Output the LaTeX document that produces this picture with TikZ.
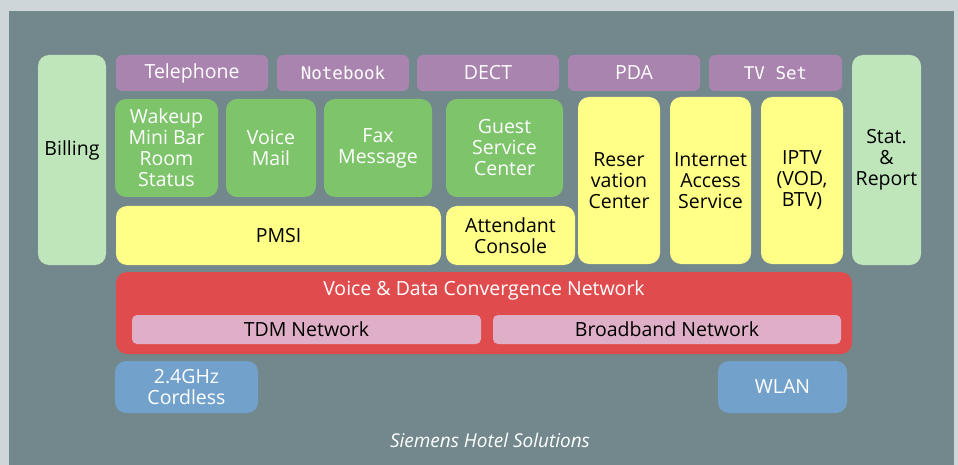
\documentclass[tikz,border=0pt]{standalone}
\usepackage{fontspec}
\setmainfont{Open Sans}
\newfontfamily\monof{DejaVu Sans Mono}
\definecolor{outerbg}{HTML}{CED6D9}
\definecolor{panel}{HTML}{72888D}
\definecolor{purp}{HTML}{A884AE}
\definecolor{grn}{HTML}{7DC46B}
\definecolor{lgrn}{HTML}{BEE6BA}
\definecolor{yel}{HTML}{FFFF88}
\definecolor{redn}{HTML}{E04C4D}
\definecolor{pink}{HTML}{DFAFC8}
\definecolor{blu}{HTML}{72A2CB}
\tikzset{
  base/.style={rectangle, rounded corners=9pt, inner sep=0pt, align=center, font=\fontsize{19.5}{21}\selectfont},
  dev/.style={base, fill=purp, text=white, rounded corners=6pt},
  svc/.style={base, fill=grn, text=white, rounded corners=11pt},
  app/.style={base, fill=yel, text=black, rounded corners=11pt},
  side/.style={base, fill=lgrn, text=black, rounded corners=11pt},
  net/.style={base, fill=redn, text=white, rounded corners=11pt},
  sub/.style={base, fill=pink, text=black, rounded corners=5pt},
  radio/.style={base, fill=blu, text=white, rounded corners=11pt},
}
\newcommand\bx[7]{%
  \node[#6, minimum width={(#4)-(#2)}, minimum height={(#5)-(#3)}] (#1) at ({((#2)+(#4))/2},{((#3)+(#5))/2}) {#7};}
\begin{document}
\begin{tikzpicture}[x=1pt,y=-1pt]
\fill[outerbg] (0,0) rectangle (958,465);
\fill[panel] (9,11) rectangle (954,465);
\path[use as bounding box] (0,0) rectangle (958,465);
% side columns
\bx{billing}{38}{55}{106}{265}{side}{}
\node[font=\fontsize{19.5}{21}\selectfont] (billinglbl) at (72,150) {Billing};
\bx{stat}{852}{55}{921}{265}{side}{Stat.\\\&\\Report}
% devices
\bx{tel}{116}{55}{268}{91}{dev}{Telephone}
\bx{note}{277}{55}{409}{91}{dev}{\monof\fontsize{17.5}{21}\selectfont Notebook}
\bx{dect}{417}{55}{559}{91}{dev}{DECT}
\bx{pda}{568}{55}{700}{91}{dev}{PDA}
\bx{tv}{709}{55}{842}{91}{dev}{\monof\fontsize{17.5}{21}\selectfont TV Set}
% services
\bx{wake}{115}{99}{218}{197}{svc}{Wakeup\\Mini Bar\\Room\\Status}
\bx{vm}{226}{99}{316}{197}{svc}{Voice\\Mail}
\bx{fax}{324}{99}{432}{197}{svc}{Fax\\Message}
\bx{guest}{446}{99}{563}{197}{svc}{Guest\\Service\\Center}
% apps
\bx{res}{578}{97}{660}{264}{app}{Reser\\vation\\Center}
\bx{inet}{670}{97}{751}{264}{app}{Internet\\Access\\Service}
\bx{iptv}{761}{97}{843}{264}{app}{IPTV\\(VOD,\\BTV)}
\bx{pmsi}{116}{206}{441}{265}{app}{PMSI}
\bx{att}{446}{206}{575}{265}{app}{Attendant\\Console}
% network
\bx{vdn}{116}{272}{852}{354}{net}{}
\node[text=white, font=\fontsize{19.5}{21}\selectfont] (vdnlbl) at (484,290) {Voice \& Data Convergence Network};
\bx{tdm}{132}{315}{481}{344}{sub}{TDM Network}
\bx{bb}{493}{315}{841}{344}{sub}{Broadband Network}
% radio
\bx{cordless}{115}{361}{258}{413}{radio}{2.4GHz\\Cordless}
\bx{wlan}{718}{361}{847}{413}{radio}{WLAN}
\node[text=white, font=\itshape\fontsize{19}{21}\selectfont] (title) at (490,440) {Siemens Hotel Solutions};
\end{tikzpicture}
\end{document}
